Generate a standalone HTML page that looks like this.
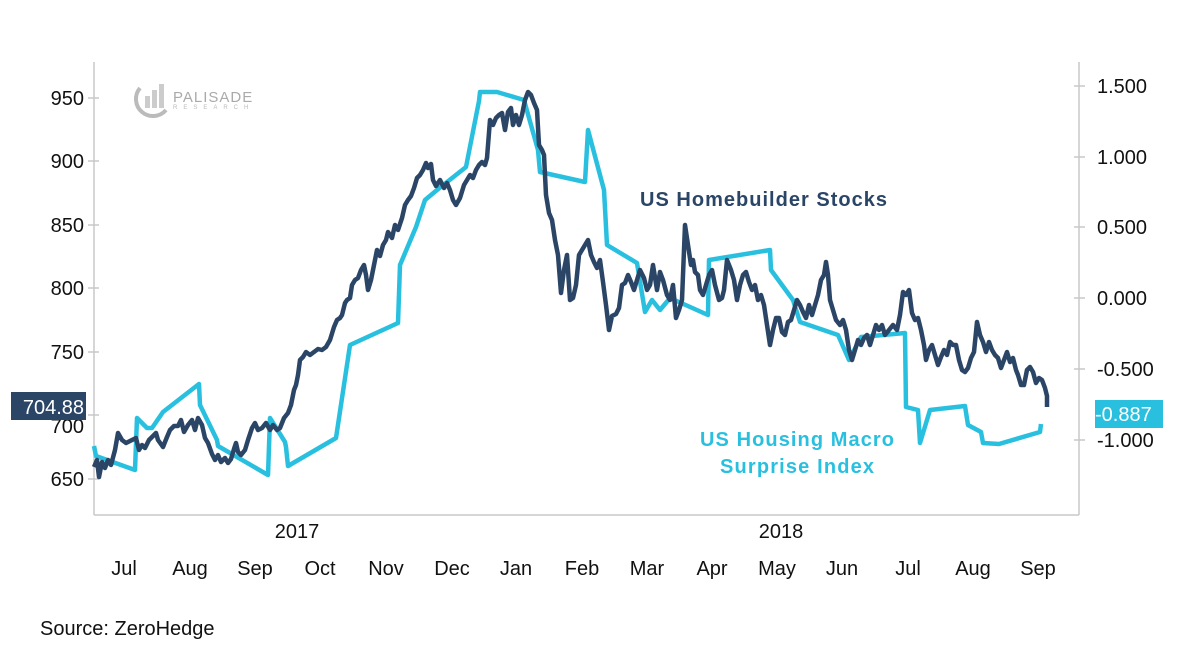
<!DOCTYPE html>
<html><head><style>
body{margin:0;background:#fff;}
svg text{font-family:"Liberation Sans",sans-serif;}
</style></head><body>
<svg width="1197" height="665" xmlns="http://www.w3.org/2000/svg">
<rect width="1197" height="665" fill="#fff"/>
<g stroke="#c8c8c8" stroke-width="1.5" fill="none">
<line x1="94" y1="62" x2="94" y2="515"/>
<line x1="94" y1="515" x2="1079" y2="515"/>
<line x1="1079" y1="62" x2="1079" y2="515"/>
<path d="M88 98H99M88 161H99M88 225H99M88 288H99M88 352H99M88 415H99M88 479H99"/>
<path d="M1074 86H1085M1074 157H1085M1074 227H1085M1074 298H1085M1074 369H1085M1074 440H1085"/>
</g>
<g font-size="20" fill="#111" text-anchor="end">
<text x="84" y="105">950</text><text x="84" y="168">900</text><text x="84" y="232">850</text>
<text x="84" y="295">800</text><text x="84" y="359">750</text><text x="84" y="433">700</text><text x="84" y="486">650</text>
</g>
<g font-size="20" fill="#111">
<text x="1097" y="93">1.500</text><text x="1097" y="164">1.000</text><text x="1097" y="234">0.500</text>
<text x="1097" y="305">0.000</text><text x="1097" y="376">-0.500</text><text x="1097" y="447">-1.000</text>
</g>
<g font-size="20" fill="#111" text-anchor="middle">
<text x="297" y="538">2017</text><text x="781" y="538">2018</text>
<text x="124" y="575">Jul</text><text x="190" y="575">Aug</text><text x="255" y="575">Sep</text><text x="320" y="575">Oct</text>
<text x="386" y="575">Nov</text><text x="452" y="575">Dec</text><text x="516" y="575">Jan</text><text x="582" y="575">Feb</text>
<text x="647" y="575">Mar</text><text x="712" y="575">Apr</text><text x="777" y="575">May</text><text x="842" y="575">Jun</text>
<text x="908" y="575">Jul</text><text x="973" y="575">Aug</text><text x="1038" y="575">Sep</text>
</g>
<text x="40" y="635" font-size="20" fill="#111">Source: ZeroHedge</text>
<g>
<path d="M140 88 A16 16 0 1 0 166 110" stroke="#bbb" stroke-width="4" fill="none"/>
<rect x="145" y="96" width="5" height="12" fill="#ccc"/><rect x="152" y="90" width="5" height="18" fill="#ccc"/><rect x="159" y="84" width="5" height="24" fill="#ccc"/>
<text x="173" y="102" font-size="15" fill="#aaa" letter-spacing="1">PALISADE</text>
<text x="173" y="109" font-size="6" fill="#bbb" letter-spacing="6">RESEARCH</text>
</g>
<polyline fill="none" stroke="#29c0e0" stroke-width="4.5" stroke-linejoin="round" points="94,446 96,456 135,470 137,418 147,428 152,428 163,412 199,384 200,405 217,440 218,446 268,475 270,418 285,442 286,447 288,466 336,438 350,345 398,323 400,265 416,227 425,200 437,190 466,167 479,101 480,92 497,92 524,100 538,150 540,172 585,182 588,130 604,190 607,245 637,263 645,312 652,300 660,310 670,298 708,315 709,260 770,250 771,270 793,300 800,322 838,335 849,360 861,337 905,333 906,407 918,410 920,443 930,410 965,406 968,425 981,432 983,443 999,444 1040,432 1041,424"/>
<polyline fill="none" stroke="#2b4566" stroke-width="4.5" stroke-linejoin="round" points="94,467 97,460 99,477 102,462 105,468 108,460 111,465 115,450 118,433 122,440 126,443 132,440 136,438 139,450 142,445 145,448 149,440 152,437 156,433 158,440 163,447 167,437 170,430 174,426 178,426 181,420 184,432 188,425 192,420 195,430 198,418 202,425 205,438 208,443 212,454 215,460 218,455 221,462 225,458 228,463 231,459 234,449 236,443 238,452 241,455 245,450 248,440 252,428 255,423 258,430 262,428 266,423 270,430 273,425 277,430 280,428 284,418 288,413 291,405 294,390 296,385 298,375 300,360 303,357 306,352 310,355 314,352 318,349 322,350 326,347 330,340 334,327 337,320 340,318 342,315 345,303 347,300 350,298 352,285 355,280 358,278 361,270 364,265 366,275 368,290 371,280 374,265 377,250 380,256 383,245 386,240 388,232 392,238 395,225 398,230 402,218 405,205 408,200 411,196 414,188 417,178 420,175 423,170 426,163 428,168 431,164 433,180 436,186 440,180 444,188 447,183 450,190 453,200 456,205 460,198 464,185 467,180 470,175 473,178 476,170 479,165 482,162 485,165 487,158 490,120 493,125 496,118 499,115 502,113 505,130 508,112 511,108 513,125 516,115 519,125 522,115 525,100 528,92 531,95 534,103 537,110 539,145 542,150 544,155 546,195 549,213 552,220 555,240 558,255 561,293 564,270 567,255 570,300 573,298 576,285 579,255 582,250 585,245 588,240 591,255 594,262 597,268 600,260 603,282 606,305 609,330 612,316 616,314 619,308 622,285 625,283 628,275 631,282 634,290 637,280 640,270 644,278 647,290 650,285 653,265 657,290 660,272 663,280 667,295 670,300 673,285 676,318 679,310 682,300 685,225 688,245 691,265 693,260 695,272 698,275 700,290 703,295 706,285 709,275 712,270 715,285 719,300 722,298 724,290 727,260 731,270 734,280 737,300 740,285 743,275 746,272 749,282 752,290 755,285 758,300 761,295 764,305 767,325 770,345 773,330 776,318 779,318 782,332 785,335 788,322 791,320 794,310 797,300 800,305 803,312 806,318 809,305 812,315 815,305 818,295 821,280 824,275 826,262 828,275 830,300 833,310 836,320 840,325 843,320 846,330 849,350 852,360 855,350 858,340 861,345 864,338 867,335 870,345 873,335 876,325 879,330 882,325 885,335 889,330 893,325 897,330 900,315 903,292 906,295 909,290 912,313 915,320 918,318 921,330 924,345 926,360 929,350 932,345 935,355 938,365 941,357 944,350 947,355 950,342 953,345 956,345 959,360 962,370 965,372 968,368 971,358 974,352 977,322 980,335 983,342 986,352 989,342 992,350 995,355 998,358 1001,368 1004,360 1007,352 1010,362 1013,358 1016,370 1018,375 1021,385 1024,385 1027,370 1030,367 1033,372 1036,383 1039,378 1042,380 1045,388 1047,396 1047,407"/>
<text x="640" y="206" font-size="20" font-weight="bold" fill="#2b4566" textLength="247">US Homebuilder Stocks</text>
<text x="797" y="446" font-size="20" font-weight="bold" fill="#29c0e0" text-anchor="middle" textLength="194">US Housing Macro</text>
<text x="797" y="473" font-size="20" font-weight="bold" fill="#29c0e0" text-anchor="middle" textLength="154">Surprise Index</text>
<rect x="11" y="392" width="75" height="28" fill="#2b4566"/>
<text x="84" y="414" font-size="20" fill="#fff" text-anchor="end">704.88</text>
<rect x="1095" y="400" width="68" height="28" fill="#29c0e0"/>
<text x="1095" y="421" font-size="20" fill="#fff">-0.887</text>
</svg>
</body></html>
